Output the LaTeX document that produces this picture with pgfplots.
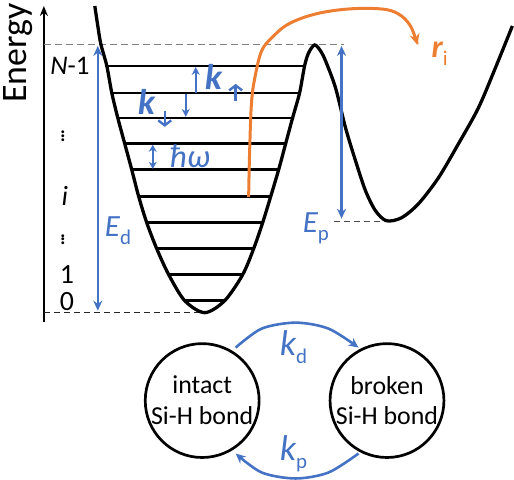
\documentclass[border=0pt]{standalone}
\usepackage{pgfplots}
\pgfplotsset{compat=1.18}
\usepackage{fontspec}
\setmainfont{Carlito}
\usetikzlibrary{arrows.meta}
\definecolor{oblue}{HTML}{4472C4}
\definecolor{oorange}{HTML}{ED7D31}
\newcommand{\fs}[1]{\fontsize{#1}{#1}\selectfont}
\newcommand{\sub}[1]{\raisebox{-8bp}{\fs{21}#1}}
\begin{document}
\begin{tikzpicture}
\begin{axis}[hide axis, scale only axis, width=514bp, height=480bp,
  xmin=0, xmax=514, ymin=0, ymax=480, y dir=reverse, clip=false]
% energy axis
\addplot[black, line width=2pt, -{Stealth[length=10bp,width=8bp]}] coordinates {(45,321) (45,5)};
% dashed reference lines
\addplot[black!50, line width=1.2pt, dash pattern=on 7bp off 4bp] coordinates {(45,43.5) (345,43.5)};
\addplot[black!85, line width=1.2pt, dash pattern=on 6bp off 4bp] coordinates {(45,312) (205,312)};
\addplot[black!70, line width=1.2pt, dash pattern=on 6bp off 4bp] coordinates {(335,221) (388,221)};
% vibrational levels
\addplot[black, line width=2.7pt] coordinates {(108,65) (306,65)};
\addplot[black, line width=2.7pt] coordinates {(113,92) (301,92)};
\addplot[black, line width=2.7pt] coordinates {(119,117) (294,117)};
\addplot[black, line width=2.7pt] coordinates {(126,143) (287,143)};
\addplot[black, line width=2.7pt] coordinates {(133,169) (280,169)};
\addplot[black, line width=2.7pt] coordinates {(140,196) (272,196)};
\addplot[black, line width=2.7pt] coordinates {(148,222) (264,222)};
\addplot[black, line width=2.7pt] coordinates {(158,248) (255,248)};
\addplot[black, line width=2.7pt] coordinates {(170,274) (244,274)};
\addplot[black, line width=2.7pt] coordinates {(186,300) (226,300)};
% potential curve
\addplot[black, line width=3.3pt, smooth, tension=0.5] coordinates {
(96,5) (99,25) (102,43) (108,65) (113,92) (119,117) (126,143) (133,169) (140,196)
(148,222) (158,248) (170,274) (186,300) (206,312) (226,300) (244,274) (255,248)
(264,222) (272,196) (280,169) (287,143) (294,117) (301,92) (306,65) (310,52)
(316,44) (322,50) (327,60) (337,87) (347,127) (357,160) (367,190) (377,210)
(388,220) (403,217) (420,203) (440,177) (460,143) (480,107) (497,67) (514,25)};
% blue arrows
\addplot[oblue, line width=2.4pt, {Stealth[length=10bp,width=9bp]}-{Stealth[length=10bp,width=9bp]}] coordinates {(99,45) (99,310)};
\addplot[oblue, line width=2.4pt, {Stealth[length=10bp,width=9bp]}-{Stealth[length=10bp,width=9bp]}] coordinates {(343,45) (343,218)};
\addplot[oblue, line width=2.2pt, -{Stealth[length=8bp,width=8bp]}] coordinates {(197,92) (197,66)};
\addplot[oblue, line width=2.2pt, -{Stealth[length=8bp,width=8bp]}] coordinates {(187,93) (187,116)};
\addplot[oblue, line width=2.2pt, {Stealth[length=7bp,width=8bp]}-{Stealth[length=7bp,width=8bp]}] coordinates {(154,144) (154,168)};
% subscript arrows of k
\addplot[oblue, line width=2.4pt, -{Straight Barb[length=5bp,width=13bp]}] coordinates {(237,100) (237,83)};
\addplot[oblue, line width=2.4pt, -{Straight Barb[length=5bp,width=13bp]}] coordinates {(166,110) (166,126)};
% orange escape path
\addplot[oorange, line width=3pt, smooth, tension=0.6, -{Stealth[length=11bp,width=10bp]}] coordinates {
(250,196) (251,150) (253,100) (257,73) (263,50) (273,37) (290,23) (317,13) (350,8)
(383,8) (400,13) (412,25) (419,44)};
% bottom arcs
\addplot[oblue, line width=2.6pt, smooth, -{Stealth[length=10bp,width=9bp]}] coordinates {(237,347) (263,328) (297,322) (330,328) (360,347)};
\addplot[oblue, line width=2.6pt, smooth, -{Stealth[length=10bp,width=9bp]}] coordinates {(360,453) (330,472) (297,478) (263,472) (237,453)};
% circles
\node[draw, circle, line width=2.7pt, minimum size=114bp, inner sep=0pt, align=center, font=\fs{26}] at (axis cs:203.5,400) {intact\\[5bp]Si-H bond};
\node[draw, circle, line width=2.7pt, minimum size=114bp, inner sep=0pt, align=center, font=\fs{26}] at (axis cs:388.5,400) {broken\\[5bp]Si-H bond};
% texts
\node[rotate=90, font=\fs{36}] at (axis cs:19,52) {Energy};
\node[anchor=base, font=\fs{27}] at (axis cs:71,74) {{\itshape N}-1};
\node[font=\fs{24}] at (axis cs:64,132) {$\vdots$};
\node[anchor=base, font=\fs{28}] at (axis cs:66,205) {\itshape i};
\node[font=\fs{24}] at (axis cs:64,236) {$\vdots$};
\node[anchor=base, font=\fs{28}] at (axis cs:68,283) {1};
\node[anchor=base, font=\fs{28}] at (axis cs:68,310) {0};
\node[anchor=base west, inner sep=0pt, text=oblue, font=\fs{31}] at (axis cs:106,236) {\itshape E\sub{\upshape d}};
\node[anchor=base west, inner sep=0pt, text=oblue, font=\fs{31}] at (axis cs:304,232) {\itshape E\sub{\upshape p}};
\node[anchor=base west, inner sep=0pt, text=oblue, font=\fs{36}] at (axis cs:206,89) {\bfseries\itshape k};
\node[anchor=base west, inner sep=0pt, text=oblue, font=\fs{36}] at (axis cs:139,114) {\bfseries\itshape k};
\node[anchor=base west, inner sep=0pt, text=oblue, font=\fs{33}] at (axis cs:171,167) {\itshape ħω};
\node[anchor=base west, inner sep=0pt, text=oorange, font=\fs{32}] at (axis cs:433,57) {\bfseries\itshape r\sub{\mdseries\upshape i}};
\node[anchor=base west, inner sep=0pt, text=oblue, font=\fs{36}] at (axis cs:281,355) {\itshape k\sub{\upshape d}};
\node[anchor=base west, inner sep=0pt, text=oblue, font=\fs{36}] at (axis cs:281,460) {\itshape k\sub{\upshape p}};
\end{axis}
\end{tikzpicture}
\end{document}
